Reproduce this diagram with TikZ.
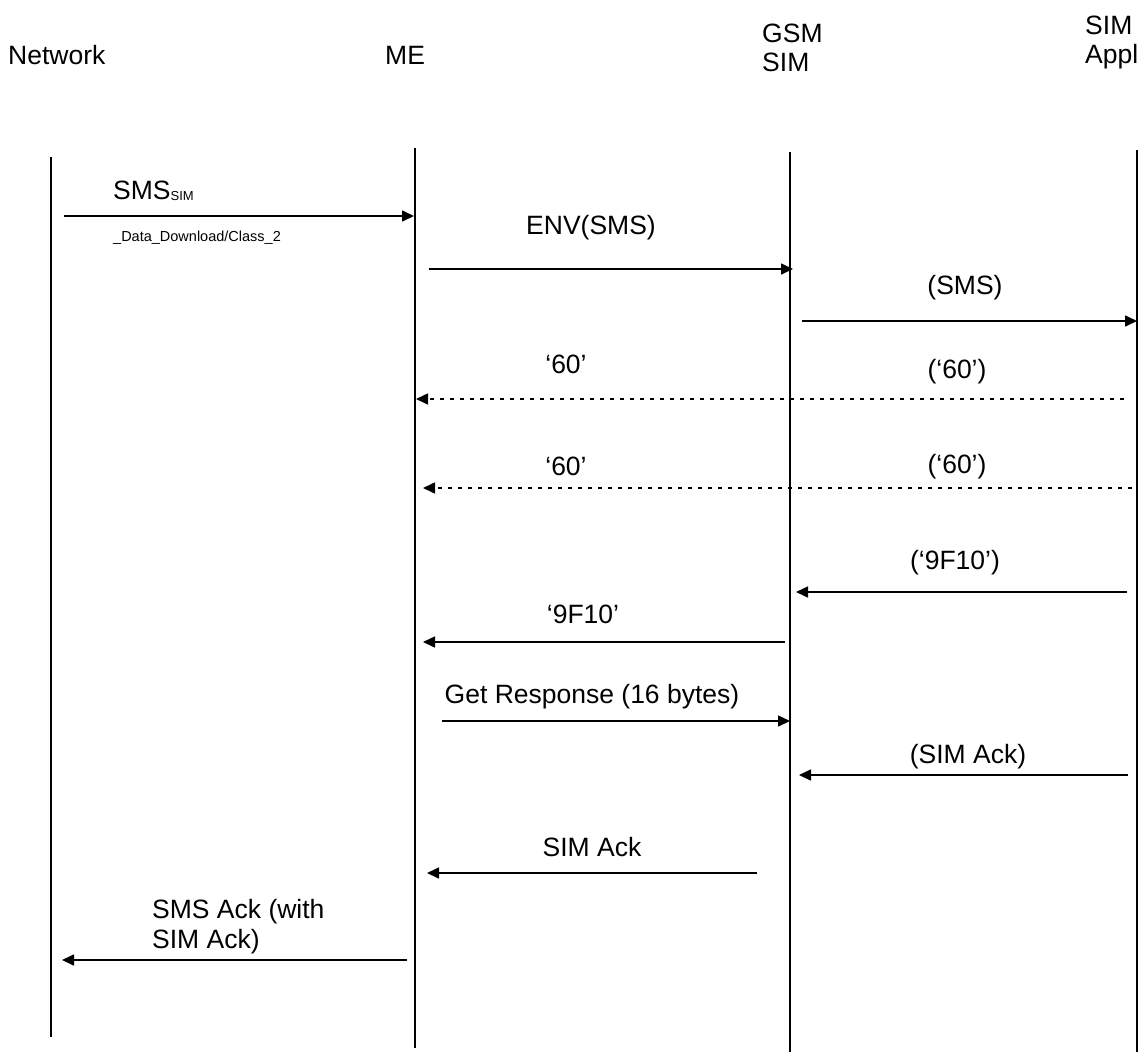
\documentclass[tikz,border=0pt]{standalone}
\usepackage{fontspec}
\setmainfont{Liberation Sans}
\usetikzlibrary{arrows.meta}
\begin{document}
\begin{tikzpicture}[x=1pt,y=-1pt,
  lifeline/.style={line width=1.6pt, black},
  msg/.style={line width=1.6pt, -{Triangle[length=12pt,width=11pt]}},
  dotmsg/.style={line width=1.6pt, dash pattern=on 4.5pt off 5.5pt, -{Triangle[length=12pt,width=11pt]}},
  lbl/.style={inner sep=0pt, font=\fontsize{26.5}{30}\selectfont},
  hdr/.style={inner sep=0pt, font=\fontsize{26.5}{29}\selectfont, align=left, anchor=west}]
\useasboundingbox (0,0) rectangle (1145,1052);
\fill[white] (0,0) rectangle (1145,1052);
% headers
\node[hdr] (hNet) at (8,55) {Network};
\node[hdr] (hME) at (385,55) {ME};
\node[hdr] (hGSM) at (762,48) {GSM\\SIM};
\node[hdr] (hApp) at (1085,42) {SIM\\Appl};
% lifelines
\coordinate (netT) at (51,157); \coordinate (netB) at (51,1037);
\coordinate (meT) at (415,148); \coordinate (meB) at (415,1048);
\coordinate (gsmT) at (790,152); \coordinate (gsmB) at (790,1052);
\coordinate (appT) at (1137,150); \coordinate (appB) at (1137,1052);
\draw[lifeline] (netT) -- (netB);
\draw[lifeline] (meT) -- (meB);
\draw[lifeline] (gsmT) -- (gsmB);
\draw[lifeline] (appT) -- (appB);
% 1 SMS
\coordinate (a1s) at (64,216); \coordinate (a1e) at (414,216);
\draw[msg] (a1s) -- (a1e);
\node[lbl, anchor=base west] (l1) at (113,199) {SMS\raisebox{-1pt}{\fontsize{13}{14}\selectfont SIM}};
\node[inner sep=0pt, anchor=west, font=\fontsize{14.5}{16}\selectfont] (l1b) at (113,238) {\_Data\_Download/Class\_2};
% 2 ENV(SMS)
\coordinate (a2s) at (429,269); \coordinate (a2e) at (793,269);
\draw[msg] (a2s) -- (a2e);
\node[lbl] (l2) at (591,228) {ENV(SMS)};
% 3 (SMS)
\coordinate (a3s) at (802,321); \coordinate (a3e) at (1137,321);
\draw[msg] (a3s) -- (a3e);
\node[lbl] (l3) at (965,288) {(SMS)};
% 4 '60' dotted
\coordinate (a4s) at (1124,399); \coordinate (a4e) at (416,399);
\draw[dotmsg] (a4s) -- (a4e);
\node[lbl] (l4a) at (566,364) {‘60’};
\node[lbl] (l4b) at (957,372) {(‘60’)};
% 5 '60' dotted
\coordinate (a5s) at (1132,488); \coordinate (a5e) at (423,488);
\draw[dotmsg] (a5s) -- (a5e);
\node[lbl] (l5a) at (566,466) {‘60’};
\node[lbl] (l5b) at (957,467) {(‘60’)};
% 6 ('9F10')
\coordinate (a6s) at (1127,592); \coordinate (a6e) at (796,592);
\draw[msg] (a6s) -- (a6e);
\node[lbl] (l6) at (955,563) {(‘9F10’)};
% 7 '9F10'
\coordinate (a7s) at (785,642); \coordinate (a7e) at (423,642);
\draw[msg] (a7s) -- (a7e);
\node[lbl] (l7) at (583,614) {‘9F10’};
% 8 Get Response
\coordinate (a8s) at (442,721); \coordinate (a8e) at (790,721);
\draw[msg] (a8s) -- (a8e);
\node[lbl] (l8) at (592,697) {Get Response (16 bytes)};
% 9 (SIM Ack)
\coordinate (a9s) at (1128,775); \coordinate (a9e) at (799,775);
\draw[msg] (a9s) -- (a9e);
\node[lbl] (l9) at (968,757) {(SIM Ack)};
% 10 SIM Ack
\coordinate (a10s) at (757,873); \coordinate (a10e) at (427,873);
\draw[msg] (a10s) -- (a10e);
\node[lbl] (l10) at (592,847) {SIM Ack};
% 11 SMS Ack
\coordinate (a11s) at (407,960); \coordinate (a11e) at (62,960);
\draw[msg] (a11s) -- (a11e);
\node[lbl, anchor=west, align=left, font=\fontsize{26.5}{30}\selectfont] (l11) at (152,927) {SMS Ack (with\\SIM Ack)};
\end{tikzpicture}
\end{document}
